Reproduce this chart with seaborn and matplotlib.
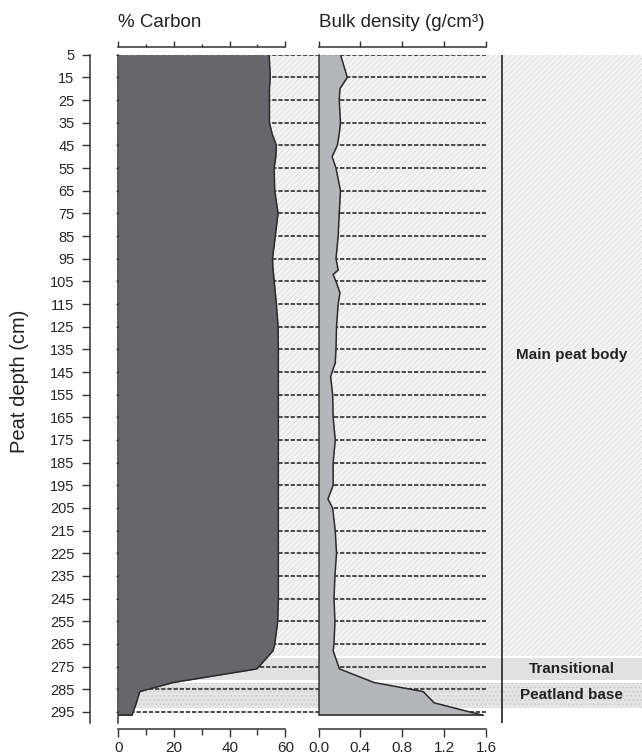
import matplotlib
matplotlib.use("Agg")
import matplotlib.pyplot as plt
import numpy as np
import pandas as pd
import seaborn as sns

# ---------------- data ----------------
depth = [5, 15, 20, 25, 35, 40, 45, 50, 55, 65, 75, 85, 95, 100, 102, 105, 110, 115,
         125, 135, 141, 147, 155, 165, 175, 185, 195, 201, 205, 215, 225, 235, 245,
         255, 265, 268, 276, 282, 286, 291, 296.5]
carbon = [54.2, 54.6, 54.3, 54.3, 54.3, 55.3, 56.8, 56.6, 56.0, 56.2, 57.4, 56.4, 55.4,
          55.6, 55.8, 56.0, 56.4, 56.8, 57.4, 57.5, 57.5, 57.5, 57.5, 57.5, 57.5, 57.5,
          57.5, 57.5, 57.5, 57.5, 57.5, 57.5, 57.5, 57.3, 56.2, 55.6, 49.8, 19.8, 7.7,
          6.5, 4.9]
bulk_density = [0.21, 0.275, 0.205, 0.198, 0.21, 0.198, 0.18, 0.13, 0.167, 0.21, 0.198,
                0.188, 0.167, 0.188, 0.14, 0.167, 0.205, 0.188, 0.172, 0.167, 0.16,
                0.116, 0.135, 0.14, 0.16, 0.14, 0.14, 0.09, 0.135, 0.16, 0.172, 0.157,
                0.148, 0.157, 0.148, 0.14, 0.2, 0.53, 1.0, 1.106, 1.575]

depth_ticks = list(range(5, 300, 10))
carbon_ticks = [0, 20, 40, 60]
carbon_minor = [10, 30, 50]
bd_ticks = [0.0, 0.4, 0.8, 1.2, 1.6]
bd_labels = ["0.0", "0.4", "0.8", "1.2", "1.6"]

zone_names = ["Main peat body", "Transitional", "Peatland base"]
zone_top = [5, 271.2, 282.0]
zone_bottom = [270.2, 281.0, 293.2]

df = pd.DataFrame({"depth": depth, "carbon": carbon, "bd": bulk_density})

# ---------------- style ----------------
sns.set_theme(style="white")
plt.rcParams["font.family"] = ["Liberation Sans", "DejaVu Sans"]
plt.rcParams["hatch.linewidth"] = 0.45

W, H = 642, 756
fig = plt.figure(figsize=(W / 100, H / 100), dpi=100)

y_top_px, y_bot_px = 54.7, 723.3
ax_b = 1 - y_bot_px / H
ax_h = (y_bot_px - y_top_px) / H
YLIM = (300, 5)
spine_col = "#333333"
txt_col = "#262626"
XTICK_FS = 11
YTICK_FS = 10.5

# background axes (zones + dashed guide lines)
ax_bg = fig.add_axes([118 / W, ax_b, (W - 118) / W, ax_h])
ax_bg.set_xlim(0, 1)
ax_bg.set_ylim(*YLIM)
ax_bg.axis("off")
ax_bg.set_zorder(0)

zone_styles = [
    dict(facecolor="#f4f4f4", hatch="//////", edgecolor="#d6d6d6"),
    dict(facecolor="#e1e1e1", hatch=None, edgecolor="#e1e1e1"),
    dict(facecolor="#e4e4e4", hatch="....", edgecolor="#c4c4c4"),
]
for name, t, b, st in zip(zone_names, zone_top, zone_bottom, zone_styles):
    ax_bg.axhspan(t, b, xmin=0, xmax=1, linewidth=0, **st)
    ax_bg.text(0.866, (t + b) / 2, name, ha="center", va="center",
               fontsize=11, fontweight="bold", color="#222222")

ax_bg.hlines(depth_ticks, 0, (486 - 118) / (W - 118), colors="#2e2e2e",
             linestyles=(0, (2.6, 1.1)), linewidth=1.2)
ax_bg.vlines((502 - 118) / (W - 118), 5, 300, colors="#333333", linewidth=1.3)


def style_panel(ax, xlim):
    ax.set_xlim(*xlim)
    ax.set_ylim(*YLIM)
    ax.patch.set_visible(False)
    ax.set_zorder(1)
    ax.spines["right"].set_visible(False)
    ax.spines["top"].set_visible(False)
    for s in ("left", "bottom"):
        ax.spines[s].set_color(spine_col)
        ax.spines[s].set_linewidth(1.1)
    ax.spines["bottom"].set_position(("outward", 4.3))
    ax.set_xlabel("")
    ax.set_ylabel("")


# ---------------- carbon panel ----------------
ax1 = fig.add_axes([118.3 / W, ax_b, 167 / W, ax_h])
ax1.fill_betweenx(df["depth"], 0, df["carbon"], color="#67676b", linewidth=0, zorder=1)
sns.lineplot(data=df, x="carbon", y="depth", orient="y", sort=False, estimator=None,
             color="#2a2a2a", linewidth=1.1, ax=ax1, zorder=2)
ax1.hlines(depth[-1], 0, carbon[-1], colors="#2a2a2a", linewidth=1.1, zorder=2)
style_panel(ax1, (0, 60))
ax1.set_yticks(depth_ticks)
ax1.tick_params(axis="y", which="major", left=True, length=1.6, width=1,
                color=spine_col, labelleft=False, direction="out")
ax1.set_xticks(carbon_ticks)
ax1.set_xticks(carbon_minor, minor=True)
ax1.set_xticklabels([str(v) for v in carbon_ticks])
ax1.tick_params(axis="x", which="major", bottom=True, length=5.8, width=1,
                color=spine_col, labelsize=XTICK_FS, labelcolor=txt_col, pad=3)
ax1.tick_params(axis="x", which="minor", bottom=True, length=4, width=1, color=spine_col)

top1 = ax1.secondary_xaxis(1 + 7.7 / (y_bot_px - y_top_px))
top1.set_xticks(carbon_ticks)
top1.set_xticks(carbon_minor, minor=True)
top1.tick_params(which="major", length=4.3, width=1, color=spine_col, labeltop=False,
                 direction="out")
top1.tick_params(which="minor", length=2.5, width=1, color=spine_col, direction="out")
top1.spines["top"].set_color(spine_col)
top1.spines["top"].set_linewidth(1.1)

left1 = ax1.secondary_yaxis(-28 / 167)
left1.set_yticks(depth_ticks)
left1.set_yticklabels([str(v) for v in depth_ticks])
left1.tick_params(length=5.8, width=1, color=spine_col, labelsize=YTICK_FS,
                  labelcolor=txt_col, pad=5.5, direction="out")
left1.spines["left"].set_color(spine_col)
left1.spines["left"].set_linewidth(1.1)

# ---------------- bulk density panel ----------------
ax2 = fig.add_axes([318.5 / W, ax_b, 167.5 / W, ax_h])
ax2.fill_betweenx(df["depth"], 0, df["bd"], color="#b5b6ba", linewidth=0, zorder=1)
sns.lineplot(data=df, x="bd", y="depth", orient="y", sort=False, estimator=None,
             color="#2a2a2a", linewidth=1.1, ax=ax2, zorder=2)
ax2.hlines(depth[-1], 0, bulk_density[-1], colors="#2a2a2a", linewidth=1.1, zorder=2)
style_panel(ax2, (0, 1.6))
ax2.spines["left"].set_bounds(5, depth[-1])
ax2.set_yticks([])
ax2.set_xticks(bd_ticks)
ax2.set_xticklabels(bd_labels)
ax2.tick_params(axis="x", which="major", bottom=True, length=5.8, width=1,
                color=spine_col, labelsize=XTICK_FS, labelcolor=txt_col, pad=3)

top2 = ax2.secondary_xaxis(1 + 7.7 / (y_bot_px - y_top_px))
top2.set_xticks(bd_ticks)
top2.tick_params(which="major", length=4.3, width=1, color=spine_col, labeltop=False,
                 direction="out")
top2.spines["top"].set_color(spine_col)
top2.spines["top"].set_linewidth(1.1)

# ---------------- titles / labels ----------------
fig.text(118 / W, 1 - 27 / H, "% Carbon", ha="left", va="baseline",
         fontsize=13.5, color="#222222")
fig.text(319 / W, 1 - 27 / H, "Bulk density (g/cm³)", ha="left", va="baseline",
         fontsize=13.5, color="#222222")
fig.text(20 / W, 1 - 381.5 / H, "Peat depth (cm)", rotation=90, ha="center",
         va="center", fontsize=14.5, color="#222222")

fig.savefig("out.png", dpi=100)
